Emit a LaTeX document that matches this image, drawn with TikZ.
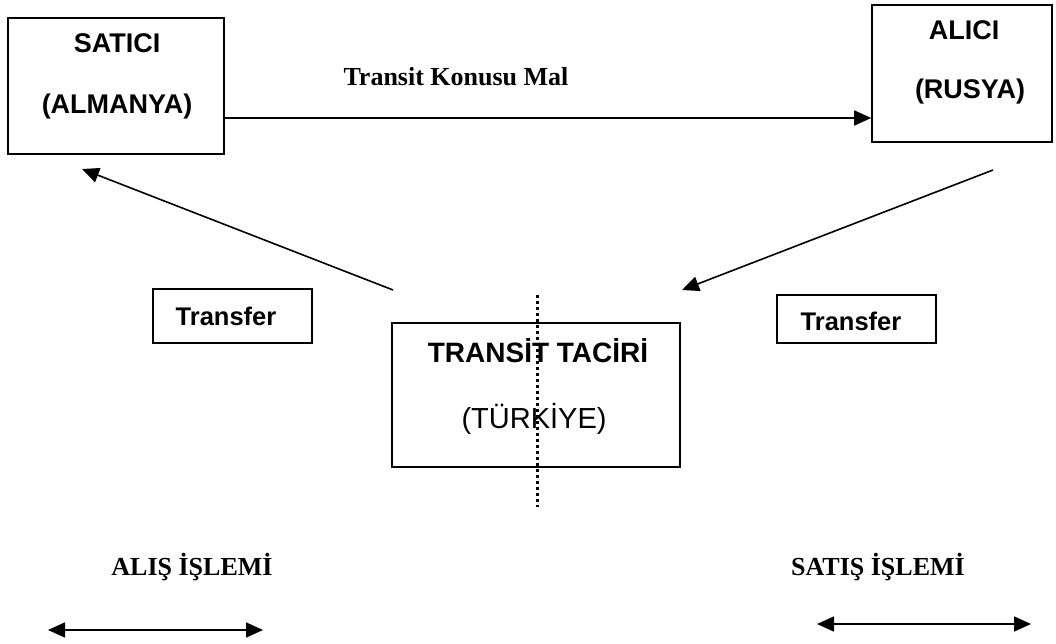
\documentclass[tikz,border=0pt]{standalone}
\usepackage{fontspec}
\setmainfont{Liberation Serif}
\setsansfont{Liberation Sans}
\usetikzlibrary{arrows.meta}
\tikzset{
  box/.style={draw, line width=1.6pt, inner sep=0pt},
  lab/.style={font=\sffamily\bfseries\fontsize{27}{30}\selectfont, anchor=base, inner sep=0pt},
  serlab/.style={font=\rmfamily\bfseries\fontsize{26}{30}\selectfont, anchor=base, inner sep=0pt},
  tip/.tip={Triangle[length=17pt,width=15pt]},
  arr/.style={line width=1.6pt, -tip},
  darr/.style={line width=1.6pt, tip-tip},
}
\begin{document}
\begin{tikzpicture}[x=1pt,y=-1pt]
\useasboundingbox (0,0) rectangle (1056,644);
% boxes
\node[box, minimum width=216pt, minimum height=136pt] (sat) at (116,86) {};
\node[box, minimum width=180pt, minimum height=137pt] (ali) at (962,73.5) {};
\node[box, minimum width=288pt, minimum height=144pt] (tt) at (536,395) {};
\node[box, minimum width=159pt, minimum height=54pt] (tl) at (232.5,316) {};
\node[box, minimum width=159pt, minimum height=48pt] (tr) at (856.5,319) {};
% labels
\node[lab] (satA) at (117,53) {SATICI};
\node[lab] (satB) at (117,114) {(ALMANYA)};
\node[lab] (aliA) at (964,40) {ALICI};
\node[lab] (aliB) at (970,99) {(RUSYA)};
\node[lab, font=\sffamily\bfseries\fontsize{28}{32}\selectfont] (ttA) at (538,362) {TRANSİT TACİRİ};
\node[lab, font=\sffamily\fontsize{29}{32}\selectfont] (ttB) at (534,428) {(TÜRKİYE)};
\node[lab, font=\sffamily\bfseries\fontsize{25.5}{30}\selectfont] (tlA) at (226,325) {Transfer};
\node[lab, font=\sffamily\bfseries\fontsize{25.5}{30}\selectfont] (trA) at (851,330) {Transfer};
\node[serlab] (mal) at (456,86) {Transit Konusu Mal};
\node[serlab] (alis) at (192,575) {ALIŞ İŞLEMİ};
\node[serlab] (satis) at (878,575) {SATIŞ İŞLEMİ};
% connectors
\coordinate (main) at (0,118);
\draw[arr] (sat.east |- main) -- (ali.west |- main);
\coordinate (ls) at (393,290);
\coordinate (le) at (82,169);
\draw[arr] (ls) -- (le);
\coordinate (rs) at (993,170);
\coordinate (re) at (682,290);
\draw[arr] (rs) -- (re);
% dotted divider
\coordinate (d1) at (537,295);
\coordinate (d2) at (537,507);
\draw[line width=3pt, dash pattern=on 3pt off 3pt] (d1) -- (d2);
% bottom double arrows
\coordinate (b1) at (48,630);
\coordinate (b2) at (263,630);
\draw[darr] (b1) -- (b2);
\coordinate (b3) at (817,624);
\coordinate (b4) at (1031,624);
\draw[darr] (b3) -- (b4);
\end{tikzpicture}
\end{document}
